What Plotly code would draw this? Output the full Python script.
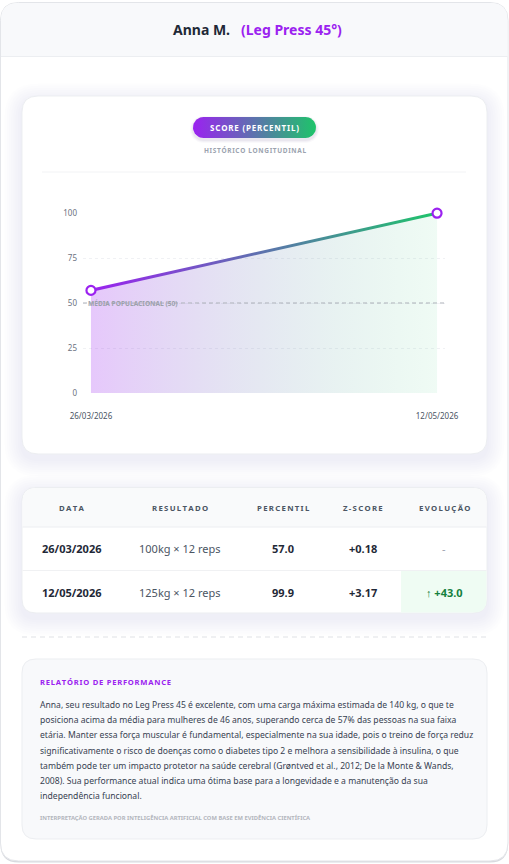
import numpy as np
import plotly.graph_objects as go

# ---------------- data ----------------
atleta = "Anna M."
exercicio = "(Leg Press 45°)"
datas = ["26/03/2026", "12/05/2026"]
percentil = [57.0, 99.9]
resultado = ["100kg × 12 reps", "125kg × 12 reps"]
percentil_txt = ["57.0", "99.9"]
zscore = ["+0.18", "+3.17"]
evolucao = ["-", "↑ +43.0"]
media_pop = 50
y_ticks = [0, 25, 50, 75, 100]
colunas = ["DATA", "RESULTADO", "PERCENTIL", "Z-SCORE", "EVOLUÇÃO"]
relatorio = [
    "Anna, seu resultado no Leg Press 45 é excelente, com uma carga máxima estimada de 140 kg, o que te",
    "posiciona acima da média para mulheres de 46 anos, superando cerca de 57% das pessoas na sua faixa",
    "etária. Manter essa força muscular é fundamental, especialmente na sua idade, pois o treino de força reduz",
    "significativamente o risco de doenças como o diabetes tipo 2 e melhora a sensibilidade à insulina, o que",
    "também pode ter um impacto protetor na saúde cerebral (Grøntved et al., 2012; De la Monte &amp; Wands,",
    "2008). Sua performance atual indica uma ótima base para a longevidade e a manutenção da sua",
    "independência funcional.",
]

# ---------------- style ----------------
W, H = 509, 864
PURPLE = "#9b22f0"
GREEN = "#1ec46a"
FONT = "Noto Sans"
DARK = "#1f2937"


def px(x):
    return x / W


def py(y):
    return 1 - y / H


def rr_path(x0, y0, x1, y1, r):
    tl, tr, br, bl = r if isinstance(r, (list, tuple)) else (r, r, r, r)
    P = lambda x, y: f"{px(x):.5f},{py(y):.5f}"
    return (f"M {P(x0 + tl, y0)} L {P(x1 - tr, y0)} Q {P(x1, y0)} {P(x1, y0 + tr)} "
            f"L {P(x1, y1 - br)} Q {P(x1, y1)} {P(x1 - br, y1)} L {P(x0 + bl, y1)} "
            f"Q {P(x0, y1)} {P(x0, y1 - bl)} L {P(x0, y0 + tl)} Q {P(x0, y0)} {P(x0 + tl, y0)} Z")


shapes = []


def card(x0, y0, x1, y1, r, fill="white", border="#eceef1", shadow=True):
    if shadow:
        for i in range(8, 0, -1):
            e = i * 2.2
            shapes.append(dict(type="path", xref="paper", yref="paper", layer="below",
                               path=rr_path(x0 - e, y0 - e + 5, x1 + e, y1 + e + 5, r + e),
                               fillcolor="rgba(60,60,80,0.009)", line=dict(width=0)))
    shapes.append(dict(type="path", xref="paper", yref="paper", layer="below",
                       path=rr_path(x0, y0, x1, y1, r), fillcolor=fill,
                       line=dict(color=border, width=1)))


# outer card
shapes.append(dict(type="path", xref="paper", yref="paper", layer="below",
                   path=rr_path(0.5, 4, 508, 862.5, 18), fillcolor="#d8dadf", line=dict(width=0)))
shapes.append(dict(type="path", xref="paper", yref="paper", layer="below",
                   path=rr_path(0.5, 2.5, 508, 861, 18), fillcolor="white",
                   line=dict(color="#e3e5e9", width=1)))
# header band
shapes.append(dict(type="path", xref="paper", yref="paper", layer="below",
                   path=rr_path(1, 3, 507.5, 56.5, (17, 17, 0, 0)), fillcolor="#f8f9fb",
                   line=dict(width=0)))
shapes.append(dict(type="line", xref="paper", yref="paper", layer="below",
                   x0=px(1), x1=px(507.5), y0=py(56.5), y1=py(56.5),
                   line=dict(color="#eceef1", width=1)))

# chart card
card(22, 96, 487, 454, 16)
shapes.append(dict(type="line", xref="paper", yref="paper", layer="below",
                   x0=px(42), x1=px(466), y0=py(172), y1=py(172),
                   line=dict(color="#f2f3f5", width=1)))

# table card
card(22, 487.5, 487, 613, 14)
shapes.append(dict(type="path", xref="paper", yref="paper", layer="below",
                   path=rr_path(22.5, 488, 486.5, 527, (14, 14, 0, 0)), fillcolor="#f9fafb",
                   line=dict(width=0)))
shapes.append(dict(type="line", xref="paper", yref="paper", layer="below",
                   x0=px(22.5), x1=px(486.5), y0=py(527), y1=py(527),
                   line=dict(color="#eceef1", width=1)))
shapes.append(dict(type="line", xref="paper", yref="paper", layer="below",
                   x0=px(22.5), x1=px(486.5), y0=py(570.5), y1=py(570.5),
                   line=dict(color="#f0f1f3", width=1)))
shapes.append(dict(type="path", xref="paper", yref="paper", layer="below",
                   path=rr_path(401, 571, 486.5, 612.5, (0, 0, 13, 0)), fillcolor="#effcf3",
                   line=dict(width=0)))

# dashed separator
shapes.append(dict(type="line", xref="paper", yref="paper", layer="below",
                   x0=px(22), x1=px(487), y0=py(637), y1=py(637),
                   line=dict(color="#dfe1e5", width=1, dash="5px,4px")))

# report card
card(22, 659, 487, 839, 14, fill="#f8f9fb", border="#eceef1", shadow=False)

# reference line (media populacional)
shapes.append(dict(type="line", xref="x domain", yref="y", layer="above",
                   x0=0, x1=1, y0=media_pop, y1=media_pop,
                   line=dict(color="#adb1b9", width=1, dash="4px,3px")))

fig = go.Figure()

# area fill
fig.add_trace(go.Scatter(x=[0, 1], y=percentil, mode="lines", fill="tozeroy",
                         line=dict(width=0, color="rgba(0,0,0,0)"),
                         fillgradient=dict(type="horizontal",
                                           colorscale=[[0, "rgba(155,34,240,0.25)"],
                                                       [1, "rgba(30,196,106,0.07)"]]),
                         hoverinfo="skip", showlegend=False, xaxis="x", yaxis="y"))

# gradient line as a thin band derived from the data
d = 0.85
band_x = [0, 1, 1, 0, 0]
band_y = [percentil[0] - d, percentil[1] - d, percentil[1] + d, percentil[0] + d, percentil[0] - d]
fig.add_trace(go.Scatter(x=band_x, y=band_y, mode="lines", fill="toself",
                         line=dict(width=0, color="rgba(0,0,0,0)"),
                         fillgradient=dict(type="horizontal",
                                           colorscale=[[0, PURPLE], [1, GREEN]]),
                         hoverinfo="skip", showlegend=False, cliponaxis=False,
                         xaxis="x", yaxis="y"))

# markers
fig.add_trace(go.Scatter(x=[0, 1], y=percentil, mode="markers",
                         marker=dict(size=9, color="white", line=dict(color=PURPLE, width=2.2)),
                         cliponaxis=False, hoverinfo="skip", showlegend=False,
                         xaxis="x", yaxis="y"))

# badge (pill) on a pixel-coordinate overlay axis
bx0, bx1, by0, by1 = 193, 316, 117, 138
r = (by1 - by0) / 2
t1 = np.linspace(-np.pi / 2, np.pi / 2, 20)
t2 = np.linspace(np.pi / 2, 3 * np.pi / 2, 20)
cy = (by0 + by1) / 2
pill_x = list(bx1 - r + r * np.cos(t1)) + list(bx0 + r + r * np.cos(t2))
pill_y = list(cy + r * np.sin(t1)) + list(cy + r * np.sin(t2))
pill_x.append(pill_x[0])
pill_y.append(pill_y[0])
# soft shadow
for i, a in [(3, 0.03), (2, 0.04), (1, 0.05)]:
    sx = list(bx1 - r + (r + i) * np.cos(t1)) + list(bx0 + r + (r + i) * np.cos(t2))
    sy = list(cy + 2 + (r + i) * np.sin(t1)) + list(cy + 2 + (r + i) * np.sin(t2))
    fig.add_trace(go.Scatter(x=sx + [sx[0]], y=sy + [sy[0]], mode="lines", fill="toself",
                             fillcolor=f"rgba(80,60,120,{a})", line=dict(width=0),
                             hoverinfo="skip", showlegend=False, xaxis="x2", yaxis="y2"))
fig.add_trace(go.Scatter(x=pill_x, y=pill_y, mode="lines", fill="toself",
                         line=dict(width=0, color="rgba(0,0,0,0)"),
                         fillgradient=dict(type="horizontal",
                                           colorscale=[[0, PURPLE], [1, GREEN]]),
                         hoverinfo="skip", showlegend=False, xaxis="x2", yaxis="y2"))

# ---------------- annotations ----------------
ann = []


def T(x, y, text, size, color, bold=False, xanchor="center", family=FONT):
    ann.append(dict(x=px(x), y=py(y), xref="paper", yref="paper", xanchor=xanchor,
                    yanchor="middle", showarrow=False,
                    text=f"<b>{text}</b>" if bold else text,
                    font=dict(size=size, color=color, family=family)))


def spaced(s, sp="\u200a"):
    return sp.join(list(s))


T(231.5, 30, atleta, 14, DARK, bold=True, xanchor="right")
T(238.5, 30, exercicio, 14, PURPLE, bold=True, xanchor="left")

T(254.5, 127.5, spaced("SCORE (PERCENTIL)"), 8, "white", bold=True)
T(254.5, 150.5, spaced("HISTÓRICO LONGITUDINAL"), 6.5, "#9ca3af", bold=True)

T(86, 303, "MÉDIA POPULACIONAL (50)", 6.6, "#9ca1ab", bold=True, xanchor="left")

col_x = [71, 180, 283, 363, 444]
for cx, c in zip(col_x, colunas):
    T(cx, 507.5, spaced(c, "\u2009"), 7.8, "#4b5563", bold=True)

row_y = [548.5, 592.5]
for i in range(len(datas)):
    yy = row_y[i]
    T(col_x[0], yy, datas[i], 11, DARK, bold=True)
    T(col_x[1], yy, resultado[i], 11, "#4b5563")
    T(col_x[2], yy, percentil_txt[i], 11, DARK, bold=True)
    T(col_x[3], yy, zscore[i], 11, DARK, bold=True)
    if evolucao[i].startswith("↑"):
        T(col_x[4], yy, evolucao[i], 11, "#15803d", bold=True)
    else:
        T(col_x[4], yy, evolucao[i], 11, "#9ca3af")

T(38, 681.5, spaced("RELATÓRIO DE PERFORMANCE", "\u200a"), 7.6, PURPLE, bold=True, xanchor="left")
for k, line in enumerate(relatorio):
    T(38, 705 + k * 15.2, line, 8.6, "#374151", xanchor="left")
T(38, 818, "INTERPRETAÇÃO GERADA POR INTELIGÊNCIA ARTIFICIAL COM BASE EM EVIDÊNCIA CIENTÍFICA",
  5.8, "#b3b6bd", bold=True, xanchor="left")

# ---------------- layout ----------------
fig.update_layout(
    width=W, height=H,
    margin=dict(l=0, r=0, t=0, b=0, pad=0, autoexpand=False),
    paper_bgcolor="white", plot_bgcolor="rgba(0,0,0,0)",
    showlegend=False, hovermode=False,
    font=dict(family=FONT),
    shapes=shapes, annotations=ann,
    xaxis=dict(domain=[px(83), px(445)], range=[-0.023, 1.023], automargin=False,
               tickvals=[0, 1], ticktext=datas, showgrid=False, zeroline=False,
               showline=False, ticks="", ticklabelstandoff=17,
               tickfont=dict(size=8, color="#4b5563", family=FONT), fixedrange=True),
    yaxis=dict(domain=[py(393), py(213)], range=[0, 100], tickvals=y_ticks, automargin=False,
               showgrid=True, gridcolor="#f0f1f4", griddash="3px,3px", gridwidth=1,
               zeroline=False, showline=False, ticks="", ticklabelstandoff=5,
               tickfont=dict(size=8, color="#6b7280", family=FONT), fixedrange=True),
    xaxis2=dict(domain=[0, 1], range=[0, W], visible=False, fixedrange=True,
                anchor="y2", automargin=False),
    yaxis2=dict(domain=[0, 1], range=[H, 0], visible=False, fixedrange=True,
                anchor="x2", automargin=False),
)

fig.write_html("out.html")
